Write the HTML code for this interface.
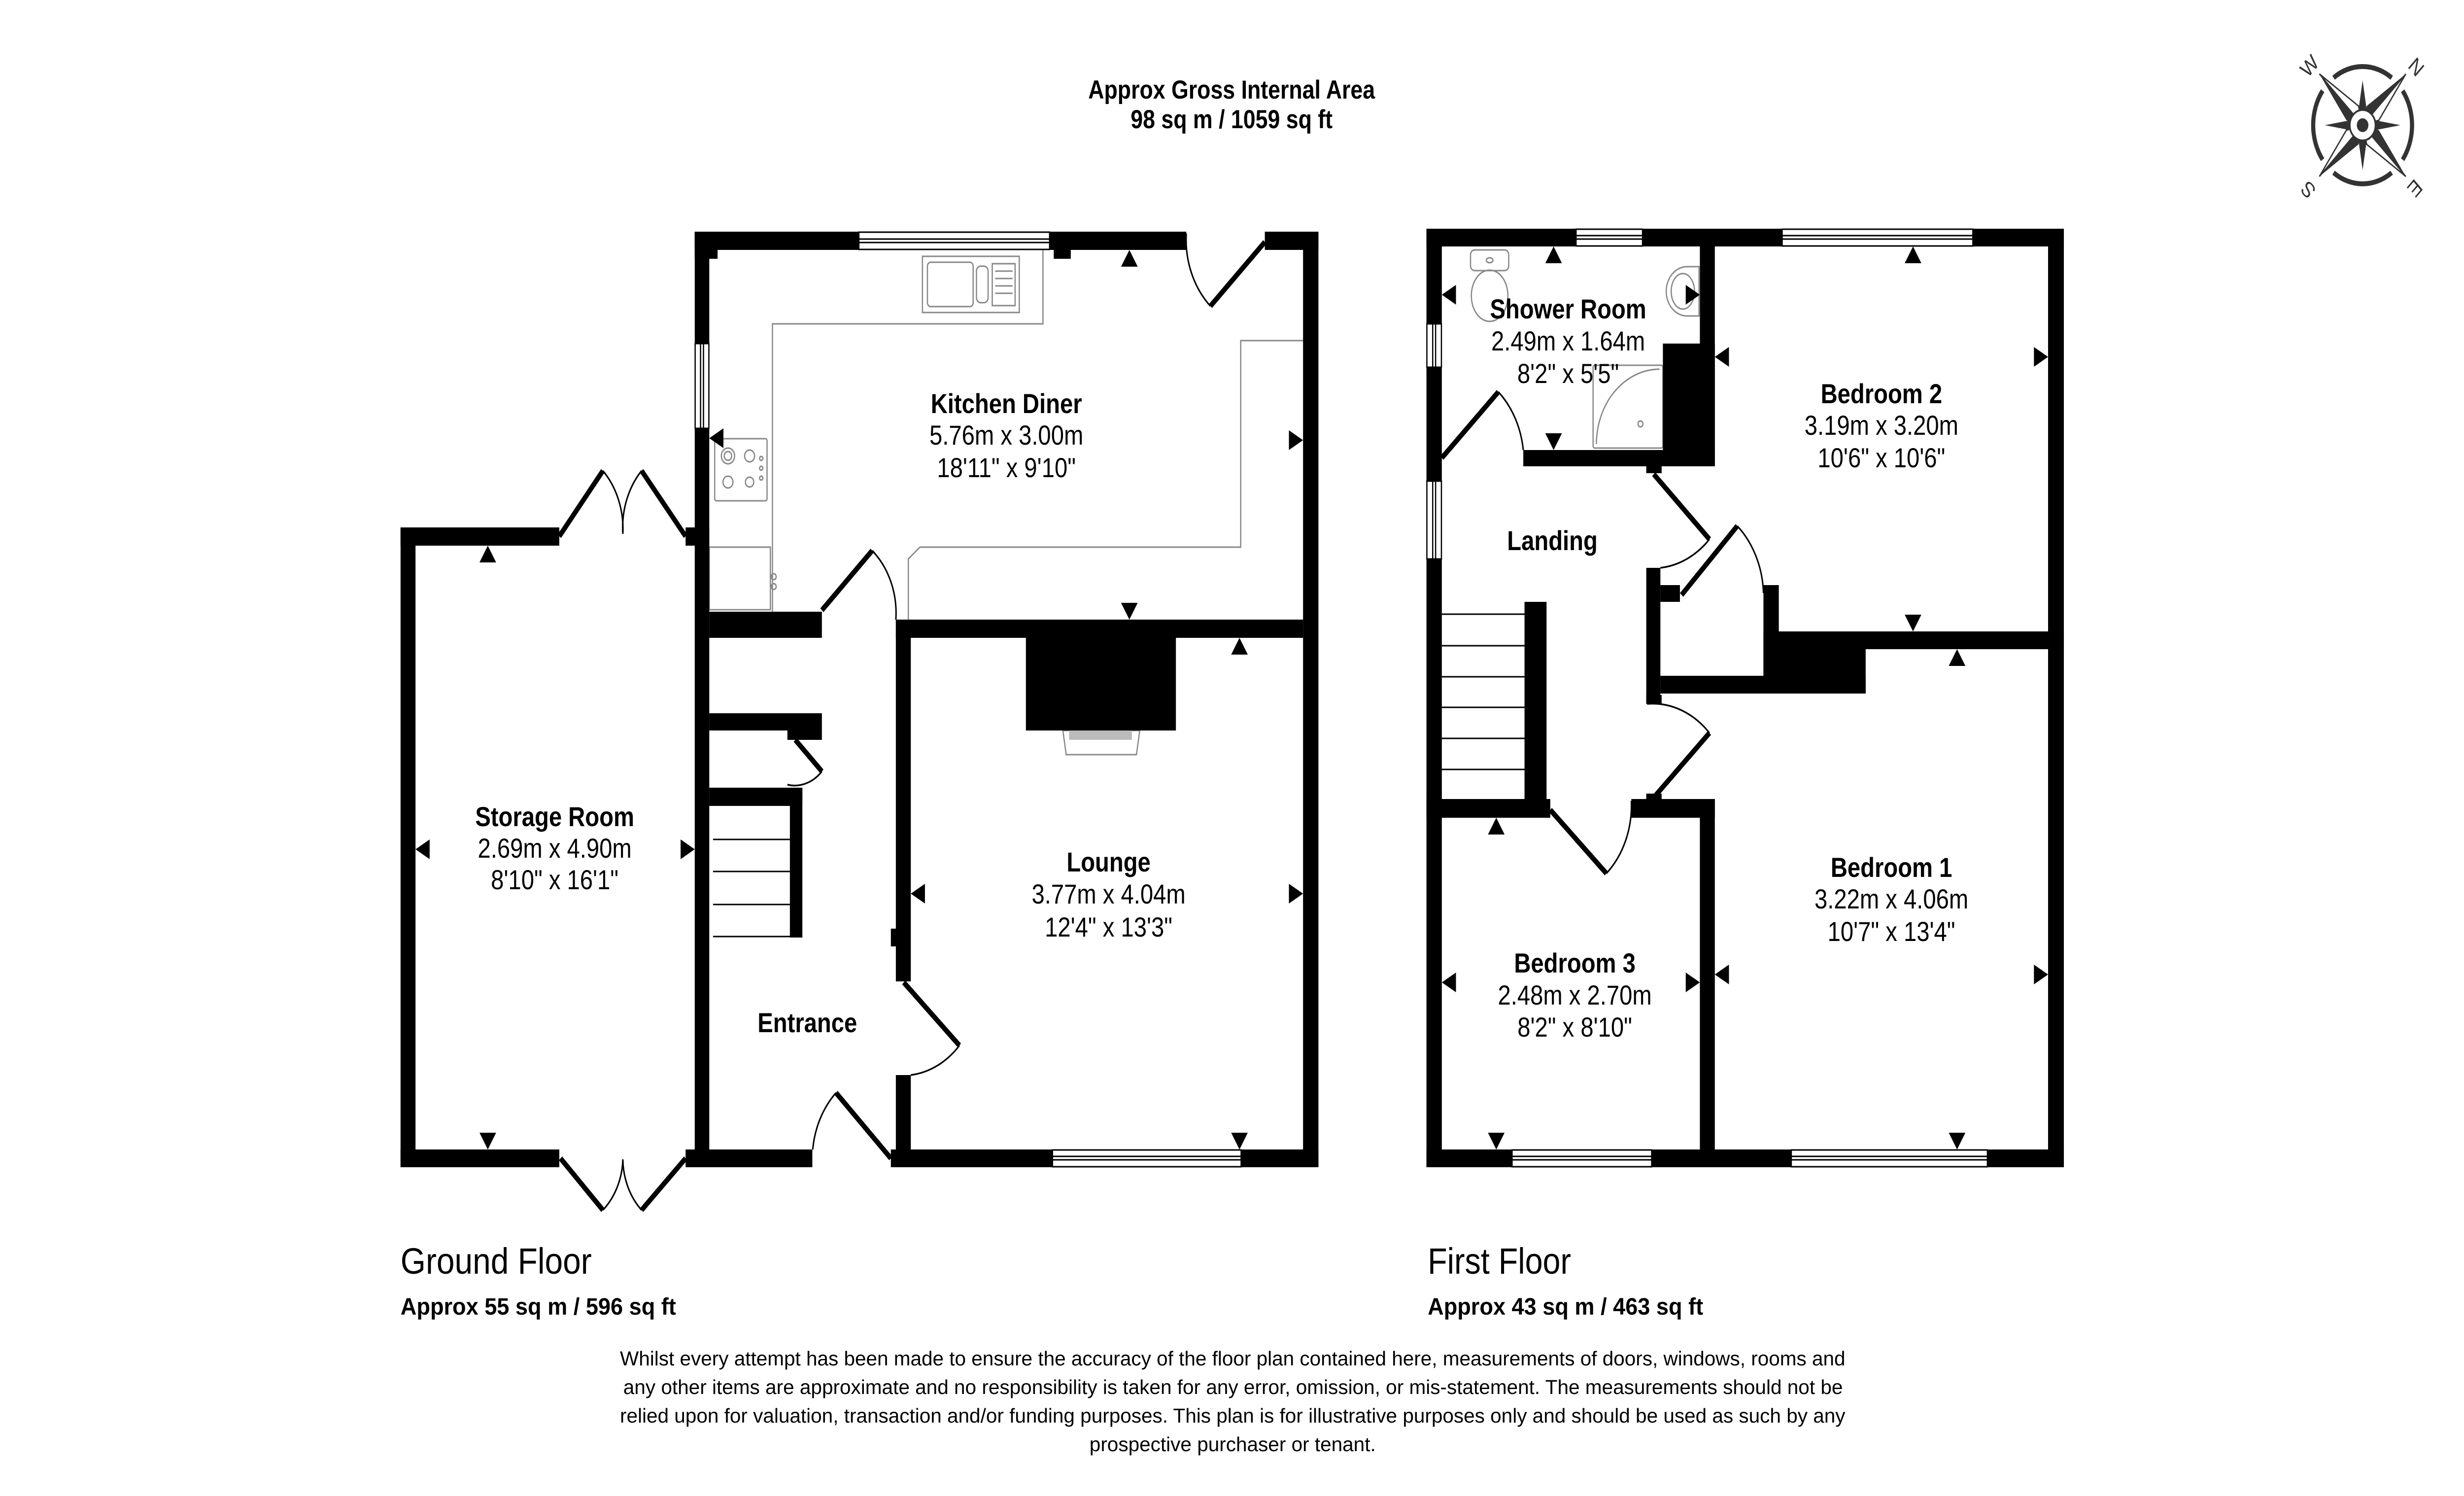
<!DOCTYPE html>
<html><head><meta charset="utf-8"><style>
html,body{margin:0;padding:0;background:#fff;overflow:hidden;width:100%;height:100%}
svg{display:block;width:100vw;height:100vh}
text{font-family:"Liberation Sans",Arial,sans-serif}
</style></head><body>
<svg viewBox="0 0 5930 3035" preserveAspectRatio="none" xmlns="http://www.w3.org/2000/svg">
<rect width="5930" height="3035" fill="#fff"/>

<g font-weight="bold" font-size="53" text-anchor="middle" fill="#000">
<text x="2964" y="200">Approx Gross Internal Area</text>
<text x="2964" y="260">98 sq m / 1059 sq ft</text>
</g>

<g fill="none" stroke="#888" stroke-width="3">
<polyline points="1859,1241 1859,657 2510,657 2510,507"/>
<polyline points="2186,1257 2186,1134 2214,1110 2986,1110 2986,691 3136,691"/>
<rect x="2220" y="520" width="233" height="114"/>
<rect x="2232" y="532" width="110" height="90" rx="8"/>
<rect x="2350" y="540" width="28" height="74" rx="10"/>
<rect x="2388" y="535" width="55" height="85"/>
<line x1="2395" y1="550" x2="2437" y2="550"/><line x1="2395" y1="565" x2="2437" y2="565"/><line x1="2395" y1="580" x2="2437" y2="580"/><line x1="2395" y1="595" x2="2437" y2="595"/>
<rect x="1720" y="890" width="126" height="126" rx="4"/>
<circle cx="1752" cy="925" r="16"/><circle cx="1752" cy="925" r="9"/><circle cx="1804" cy="925" r="12"/>
<circle cx="1752" cy="978" r="12"/><circle cx="1804" cy="978" r="10"/>
<circle cx="1832" cy="930" r="4"/><circle cx="1832" cy="950" r="4"/><circle cx="1832" cy="970" r="4"/>
<rect x="1707" y="1110" width="147" height="127"/>
<circle cx="1862" cy="1170" r="6"/><circle cx="1862" cy="1190" r="6"/>
<polygon points="2558,1482 2743,1482 2735,1531 2566,1531"/>
</g>
<rect x="2573" y="1482" width="151" height="19" fill="#bbb"/>

<g fill="#000">
<rect x="964" y="1070" width="36" height="1298"/>
<rect x="964" y="1070" width="382" height="37"/>
<rect x="964" y="2332" width="382" height="36"/>
<rect x="1650" y="1070" width="57" height="37"/>
<rect x="1650" y="2332" width="57" height="36"/>
<rect x="1672" y="470" width="35" height="1898"/>
<rect x="1672" y="470" width="55" height="55"/>
<rect x="1672" y="470" width="1183" height="37"/>
<rect x="2536" y="507" width="41" height="18"/>
<rect x="3044" y="470" width="129" height="37"/>
<rect x="3136" y="470" width="37" height="1898"/>
<rect x="1707" y="1241" width="271" height="53"/>
<rect x="2156" y="1257" width="980" height="37"/>
<rect x="2156" y="1257" width="36" height="734"/>
<rect x="2144" y="1884" width="14" height="36"/>
<rect x="2156" y="2181" width="36" height="187"/>
<rect x="1672" y="2332" width="283" height="36"/>
<rect x="2144" y="2332" width="1029" height="36"/>
<rect x="2469" y="1294" width="361" height="188"/>
<rect x="1707" y="1447" width="271" height="35"/>
<rect x="1895" y="1482" width="83" height="19"/>
<rect x="1707" y="1598" width="224" height="37"/>
<rect x="1901" y="1598" width="30" height="304"/>
</g>
<g stroke="#000" stroke-width="3">
<line x1="1716" y1="1703" x2="1901" y2="1703"/>
<line x1="1716" y1="1768" x2="1901" y2="1768"/>
<line x1="1716" y1="1835" x2="1901" y2="1835"/>
<line x1="1716" y1="1900" x2="1931" y2="1900"/>
</g>

<g fill="#fff" stroke="#000" stroke-width="3">
<rect x="2067" y="471" width="459" height="35"/>
<rect x="1673" y="697" width="33" height="172"/>
<rect x="2533" y="2333" width="454" height="34"/>
</g>
<g stroke="#000" stroke-width="3">
<line x1="2067" y1="485" x2="2526" y2="485"/><line x1="2067" y1="492" x2="2526" y2="492"/>
<line x1="1686" y1="697" x2="1686" y2="869"/><line x1="1693" y1="697" x2="1693" y2="869"/>
<line x1="2533" y1="2346" x2="2987" y2="2346"/><line x1="2533" y1="2353" x2="2987" y2="2353"/>
</g>

<g stroke="#000" stroke-width="11" stroke-linecap="butt">
<line x1="1346" y1="1088" x2="1451" y2="955"/>
<line x1="1650" y1="1088" x2="1544" y2="955"/>
<line x1="1349" y1="2350" x2="1451" y2="2455"/>
<line x1="1650" y1="2350" x2="1544" y2="2455"/>
<line x1="1978" y1="1238" x2="2099" y2="1117"/>
<line x1="2175" y1="1993" x2="2309" y2="2121"/>
<line x1="2144" y1="2350" x2="2012" y2="2217"/>
<line x1="1914" y1="1501" x2="1978" y2="1565"/>
<line x1="3044" y1="491" x2="2913" y2="621"/>
</g>
<g stroke="#000" stroke-width="3.5" fill="none">
<path d="M1451,955 A169,169 0 0 1 1499,1083"/>
<path d="M1544,955 A169,169 0 0 0 1499,1083"/>
<path d="M1451,2455 A146,146 0 0 0 1499,2352"/>
<path d="M1544,2455 A146,146 0 0 1 1499,2352"/>
<path d="M2099,1117 A169,169 0 0 1 2156,1257"/>
<path d="M2309,2121 A185,185 0 0 1 2192,2181"/>
<path d="M2012,2217 A187,187 0 0 0 1956,2332"/>
<path d="M1978,1565 A90,90 0 0 1 1895,1592"/>
<path d="M2913,621 A185,185 0 0 1 2855,474"/>
</g>

<g fill="#000">
<polygon points="1154,1141 1194,1141 1174,1107"/>
<polygon points="1154,2298 1194,2298 1174,2332"/>
<polygon points="1034,1703 1034,1743 1000,1723"/>
<polygon points="1638,1703 1638,1743 1672,1723"/>
<polygon points="1741,869 1741,909 1707,889"/>
<polygon points="2698,541 2738,541 2718,507"/>
<polygon points="2698,1223 2738,1223 2718,1257"/>
<polygon points="3102,873 3102,913 3136,893"/>
<polygon points="2226,1793 2226,1833 2192,1813"/>
<polygon points="2963,1328 3003,1328 2983,1294"/>
<polygon points="3102,1793 3102,1833 3136,1813"/>
<polygon points="2963,2298 3003,2298 2983,2332"/>
</g>

<g font-size="56" text-anchor="middle" fill="#000">
<text x="2422" y="838" font-weight="bold">Kitchen Diner</text>
<text x="2422" y="902">5.76m x 3.00m</text>
<text x="2422" y="968">18'11" x 9'10"</text>
<text x="1335" y="1676" font-weight="bold">Storage Room</text>
<text x="1335" y="1740">2.69m x 4.90m</text>
<text x="1335" y="1804">8'10" x 16'1"</text>
<text x="1943" y="2094" font-weight="bold">Entrance</text>
<text x="2668" y="1768" font-weight="bold">Lounge</text>
<text x="2668" y="1833">3.77m x 4.04m</text>
<text x="2668" y="1900">12'4" x 13'3"</text>
</g>

<g fill="none" stroke="#888" stroke-width="3">
<rect x="3539" y="507" width="92" height="42" rx="10"/>
<ellipse cx="3585" cy="600" rx="44" ry="52"/>
<ellipse cx="3585" cy="528" rx="8" ry="5"/>
<path d="M4089,541 L4089,641 L4060,641 A50,50 0 0 1 4060,541 Z"/>
<ellipse cx="4050" cy="591" rx="28" ry="36"/>
<rect x="3834" y="741" width="168" height="168" rx="4"/>
<path d="M3842,901 A152,152 0 0 1 3994,749"/>
<circle cx="3948" cy="860" r="6"/>
</g>
<g fill="#000">
<rect x="3433" y="464" width="37" height="1904"/>
<rect x="3433" y="464" width="1534" height="36"/>
<rect x="4929" y="464" width="38" height="1904"/>
<rect x="3433" y="2332" width="1534" height="36"/>
<rect x="4091" y="464" width="36" height="482"/>
<rect x="4002" y="697" width="125" height="249"/>
<rect x="3666" y="913" width="461" height="33"/>
<rect x="3962" y="913" width="37" height="47"/>
<rect x="4244" y="1281" width="723" height="36"/>
<rect x="4244" y="1187" width="37" height="220"/>
<rect x="4244" y="1317" width="246" height="90"/>
<rect x="3962" y="1152" width="34" height="276"/>
<rect x="3996" y="1371" width="494" height="36"/>
<rect x="3996" y="1187" width="47" height="34"/>
<rect x="3962" y="1410" width="37" height="18"/>
<rect x="4091" y="1621" width="36" height="747"/>
<rect x="3433" y="1621" width="298" height="38"/>
<rect x="3926" y="1621" width="201" height="38"/>
<rect x="3962" y="1610" width="37" height="20"/>
<rect x="3669" y="1221" width="53" height="438"/>
</g>
<g stroke="#000" stroke-width="3">
<line x1="3470" y1="1246" x2="3669" y2="1246"/>
<line x1="3470" y1="1310" x2="3669" y2="1310"/>
<line x1="3470" y1="1373" x2="3669" y2="1373"/>
<line x1="3470" y1="1435" x2="3669" y2="1435"/>
<line x1="3470" y1="1498" x2="3669" y2="1498"/>
<line x1="3470" y1="1561" x2="3669" y2="1561"/>
</g>

<g fill="#fff" stroke="#000" stroke-width="3">
<rect x="3793" y="465" width="160" height="34"/>
<rect x="4289" y="465" width="459" height="34"/>
<rect x="3434" y="657" width="35" height="88"/>
<rect x="3434" y="976" width="35" height="158"/>
<rect x="3639" y="2333" width="336" height="34"/>
<rect x="4311" y="2333" width="472" height="34"/>
</g>
<g stroke="#000" stroke-width="3">
<line x1="3793" y1="478" x2="3953" y2="478"/><line x1="3793" y1="485" x2="3953" y2="485"/>
<line x1="4289" y1="478" x2="4748" y2="478"/><line x1="4289" y1="485" x2="4748" y2="485"/>
<line x1="3448" y1="657" x2="3448" y2="745"/><line x1="3455" y1="657" x2="3455" y2="745"/>
<line x1="3448" y1="976" x2="3448" y2="1134"/><line x1="3455" y1="976" x2="3455" y2="1134"/>
<line x1="3639" y1="2346" x2="3975" y2="2346"/><line x1="3639" y1="2353" x2="3975" y2="2353"/>
<line x1="4311" y1="2346" x2="4783" y2="2346"/><line x1="4311" y1="2353" x2="4783" y2="2353"/>
</g>

<g stroke="#000" stroke-width="11">
<line x1="3470" y1="929" x2="3606" y2="795"/>
<line x1="3980" y1="962" x2="4114" y2="1094"/>
<line x1="4047" y1="1207" x2="4181" y2="1067"/>
<line x1="3980" y1="1618" x2="4114" y2="1487"/>
<line x1="3731" y1="1643" x2="3866" y2="1772"/>
</g>
<g stroke="#000" stroke-width="3.5" fill="none">
<path d="M3606,795 A191,191 0 0 1 3666,913"/>
<path d="M4114,1094 A188,188 0 0 1 3996,1152"/>
<path d="M4181,1067 A194,194 0 0 1 4244,1203"/>
<path d="M4114,1487 A187,187 0 0 0 3964,1428"/>
<path d="M3866,1772 A187,187 0 0 0 3926,1625"/>
</g>

<g fill="#000">
<polygon points="3504,578 3504,618 3470,598"/>
<polygon points="3719,534 3759,534 3739,500"/>
<polygon points="4057,578 4057,618 4091,598"/>
<polygon points="3719,879 3759,879 3739,913"/>
<polygon points="4584,534 4624,534 4604,500"/>
<polygon points="4161,704 4161,744 4127,724"/>
<polygon points="4895,704 4895,744 4929,724"/>
<polygon points="4584,1247 4624,1247 4604,1281"/>
<polygon points="4690,1351 4730,1351 4710,1317"/>
<polygon points="4161,1957 4161,1997 4127,1977"/>
<polygon points="4895,1957 4895,1997 4929,1977"/>
<polygon points="4690,2298 4730,2298 4710,2332"/>
<polygon points="3581,1693 3621,1693 3601,1659"/>
<polygon points="3504,1973 3504,2013 3470,1993"/>
<polygon points="4057,1973 4057,2013 4091,1993"/>
<polygon points="3581,2298 3621,2298 3601,2332"/>
</g>

<g font-size="56" text-anchor="middle" fill="#000">
<text x="3774" y="646" font-weight="bold">Shower Room</text>
<text x="3774" y="711">2.49m x 1.64m</text>
<text x="3774" y="777">8'2" x 5'5"</text>
<text x="3736" y="1116" font-weight="bold">Landing</text>
<text x="4528" y="818" font-weight="bold">Bedroom 2</text>
<text x="4528" y="882">3.19m x 3.20m</text>
<text x="4528" y="948">10'6" x 10'6"</text>
<text x="4552" y="1779" font-weight="bold">Bedroom 1</text>
<text x="4552" y="1843">3.22m x 4.06m</text>
<text x="4552" y="1909">10'7" x 13'4"</text>
<text x="3790" y="1973" font-weight="bold">Bedroom 3</text>
<text x="3790" y="2038">2.48m x 2.70m</text>
<text x="3790" y="2103">8'2" x 8'10"</text>
</g>

<text x="964" y="2584" font-size="74" fill="#000" textLength="460" lengthAdjust="spacingAndGlyphs">Ground Floor</text>
<text x="964" y="2667" font-size="48" font-weight="bold" fill="#000" textLength="663" lengthAdjust="spacingAndGlyphs">Approx 55 sq m / 596 sq ft</text>
<text x="3436" y="2584" font-size="74" fill="#000" textLength="345" lengthAdjust="spacingAndGlyphs">First Floor</text>
<text x="3436" y="2667" font-size="48" font-weight="bold" fill="#000" textLength="663" lengthAdjust="spacingAndGlyphs">Approx 43 sq m / 463 sq ft</text>

<g font-size="41" fill="#000">
<text x="1492" y="2770" textLength="2949" lengthAdjust="spacingAndGlyphs">Whilst every attempt has been made to ensure the accuracy of the floor plan contained here, measurements of doors, windows, rooms and</text>
<text x="1500" y="2828" textLength="2935" lengthAdjust="spacingAndGlyphs">any other items are approximate and no responsibility is taken for any error, omission, or mis-statement. The measurements should not be</text>
<text x="1492" y="2886" textLength="2949" lengthAdjust="spacingAndGlyphs">relied upon for valuation, transaction and/or funding purposes. This plan is for illustrative purposes only and should be used as such by any</text>
<text x="2622" y="2944" textLength="689" lengthAdjust="spacingAndGlyphs">prospective purchaser or tenant.</text>
</g>

<g transform="translate(5686,254)" fill="#333">
<circle r="119" fill="none" stroke="#333" stroke-width="10" stroke-dasharray="149.5 37.4" stroke-dashoffset="74.8"/>
<polygon points="0,-91 -10,-30 10,-30"/>
<polygon points="0,91 -10,30 10,30"/>
<polygon points="-91,0 -30,-10 -30,10"/>
<polygon points="91,0 30,-10 30,10"/>
<g><polygon points="104,-104 10,-39 0,0"/><polygon points="104,-104 39,-10 0,0" fill="#fff" stroke="#333" stroke-width="3"/></g>
<g transform="rotate(90)"><polygon points="104,-104 10,-39 0,0"/><polygon points="104,-104 39,-10 0,0" fill="#fff" stroke="#333" stroke-width="3"/></g>
<g transform="rotate(180)"><polygon points="104,-104 10,-39 0,0"/><polygon points="104,-104 39,-10 0,0" fill="#fff" stroke="#333" stroke-width="3"/></g>
<g transform="rotate(270)"><polygon points="104,-104 10,-39 0,0"/><polygon points="104,-104 39,-10 0,0" fill="#fff" stroke="#333" stroke-width="3"/></g>
<circle r="31" fill="#fff" stroke="#333" stroke-width="4"/>
<circle r="14"/>
<g font-size="44" text-anchor="middle">
<text transform="translate(-128,-120) rotate(-45)" y="15">W</text>
<text transform="translate(129,-118) rotate(45)" y="15">N</text>
<text transform="translate(-131,131) rotate(-135)" y="15">S</text>
<text transform="translate(126,128) rotate(135)" y="15">E</text>
</g>
</g>
</svg>
</body></html>
